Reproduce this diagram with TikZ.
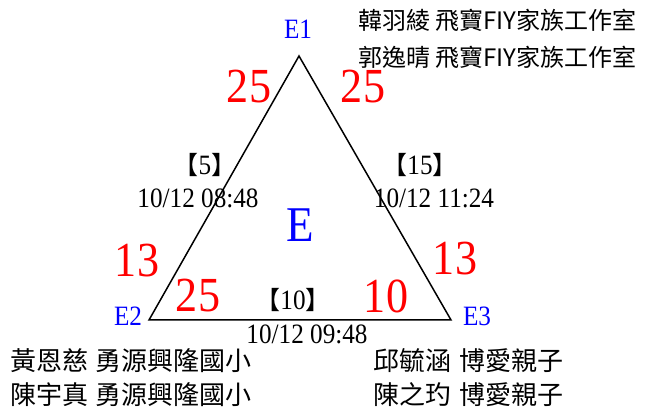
\documentclass[tikz,border=0pt]{standalone}
\usepackage{fontspec}
\setmainfont{Liberation Serif}[FakeStretch=0.9]
\newfontfamily\cjk{Noto Sans CJK TC}
\newcommand\lb{{\cjk\fontsize{25}{26}\selectfont 【}}
\newcommand\rb{{\cjk\fontsize{25}{26}\selectfont 】}}
\begin{document}
\begin{tikzpicture}[x=1pt,y=-1pt, inner sep=0pt,
 vlabel/.style={text=blue, font=\fontsize{28}{30}\selectfont},
 score/.style={text=red, font=\fontsize{49}{50}\selectfont},
 stamp/.style={font=\fontsize{28}{30}\selectfont},
 seq/.style={font=\fontsize{28}{30}\selectfont},
 team/.style={font=\cjk\fontsize{24}{26}\selectfont, anchor=west},
 teamb/.style={font=\cjk\fontsize{26}{27}\selectfont, anchor=west},
]
\useasboundingbox (0,0) rectangle (646,414);
\coordinate (A) at (299,56);
\coordinate (B) at (149,320);
\coordinate (C) at (451,320);
\draw[line width=1.5pt, line join=miter] (A) -- (B) -- (C) -- cycle;
\node[vlabel] (e1) at (298,29) {E1};
\node[vlabel] (e2) at (128,316) {E2};
\node[vlabel] (e3) at (477,316) {E3};
\node[score] (s1) at (249,87) {25};
\node[score] (s2) at (363,87) {25};
\node[score] (s3) at (137,261) {13};
\node[score] (s4) at (455,259) {13};
\node[score] (s5) at (198,296) {25};
\node[score] (s6) at (386,296) {10};
\node[text=blue, font=\fontsize{50}{52}\selectfont] (e) at (300,225) {E};
\node[seq] (q1) at (205,165) {\lb 5\rb};
\node[stamp] (t1) at (198,198) {10/12 08:48};
\node[seq] (q2) at (420,165) {\lb 15\rb};
\node[stamp] (t2) at (434,198) {10/12 11:24};
\node[seq] (q3) at (293,300) {\lb 10\rb};
\node[stamp] (t3) at (307,334) {10/12 09:48};
\node[team] (p1) at (358,20) {韓羽綾 飛寶FIY家族工作室};
\node[team] (p2) at (358,57) {郭逸晴 飛寶FIY家族工作室};
\node[teamb] (p3) at (10,361) {黃恩慈\hspace{0.3em}勇源興隆國小};
\node[teamb] (p4) at (10,395) {陳宇真\hspace{0.3em}勇源興隆國小};
\node[teamb] (p5) at (373,361) {邱毓涵\hspace{0.3em}博愛親子};
\node[teamb] (p6) at (373,395) {陳之玓\hspace{0.3em}博愛親子};
\end{tikzpicture}
\end{document}
